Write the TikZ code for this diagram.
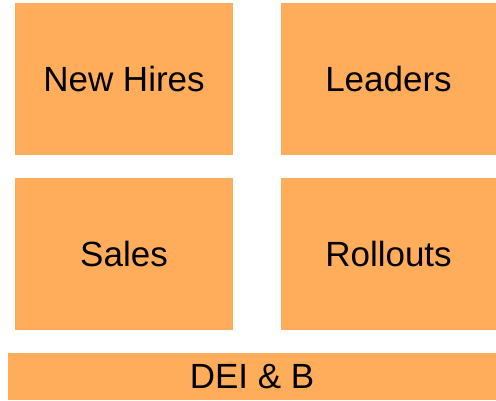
\documentclass[tikz,border=0pt]{standalone}
\usepackage{fontspec}
\setmainfont{Liberation Sans}
\definecolor{tile}{HTML}{FFAD5A}
\begin{document}
\begin{tikzpicture}[x=1pt,y=-1pt,
  tilebox/.style={fill=tile,draw=none,inner sep=0pt,font=\fontsize{35}{40}\selectfont,text=black}]
\useasboundingbox (0,0) rectangle (496,400);
\node[tilebox,minimum width=218pt,minimum height=152pt] (newhires) at (124,79) {New Hires};
\node[tilebox,minimum width=215pt,minimum height=152pt] (leaders) at (388.5,79) {Leaders};
\node[tilebox,minimum width=218pt,minimum height=152pt] (sales) at (124,254) {Sales};
\node[tilebox,minimum width=215pt,minimum height=152pt] (rollouts) at (388.5,254) {Rollouts};
\node[tilebox,minimum width=488pt,minimum height=47pt] (deib) at (252,376.5) {DEI \& B};
\end{tikzpicture}
\end{document}
